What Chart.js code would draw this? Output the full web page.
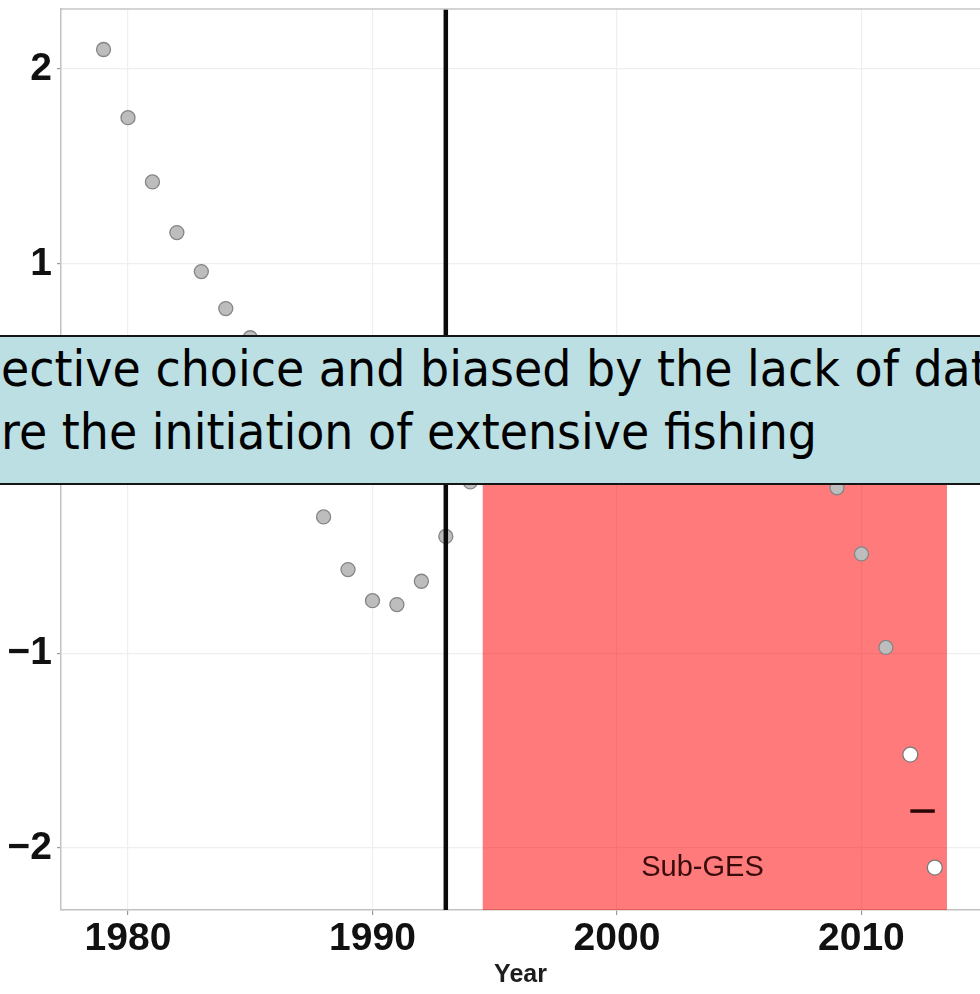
<!DOCTYPE html>
<html>
<head>
<meta charset="utf-8">
<script src="https://cdn.jsdelivr.net/npm/chart.js@4/dist/chart.umd.min.js"></script>
<style>
  html, body { margin: 0; padding: 0; background: #fff; overflow: hidden; }
  #wrap { position: relative; width: 980px; height: 994px; overflow: hidden; }
  #chart { position: absolute; left: 0; top: 0; }
  #note {
    position: absolute; left: -20px; top: 335px; width: 1030px; height: 150px;
    box-sizing: border-box; border: 2px solid #151515; background: #BBDFE3;
  }
  .ln {
    position: absolute; left: 1px; white-space: nowrap; color: #000;
    font-family: "DejaVu Sans", Verdana, sans-serif; font-size: 50px; line-height: 50px;
    transform-origin: 0 0;
  }
</style>
</head>
<body>
<div id="wrap">
  <canvas id="chart" width="980" height="994"></canvas>
  <div id="note"></div>
  <div class="ln" id="l1" style="top:344px">ective choice and biased by the lack of dat</div>
  <div class="ln" id="l2" style="top:407px">re the initiation of extensive fishing</div>
</div>
<script>
// Yearly index values (assessed years)
const years = [1979, 1980, 1981, 1982, 1983, 1984, 1985, 1986, 1987, 1988, 1989, 1990,
               1991, 1992, 1993, 1994, 1995, 1996, 1997, 1998, 1999, 2000, 2001, 2002,
               2003, 2004, 2005, 2006, 2007, 2008, 2009, 2010, 2011];
const indexValues = [2.10, 1.75, 1.42, 1.16, 0.96, 0.77, 0.62, 0.36, 0.06, -0.30, -0.57, -0.73,
                     -0.75, -0.63, -0.40, -0.12, 0.05, 0.18, 0.30, 0.35, 0.40, 0.44, 0.42, 0.38,
                     0.33, 0.30, 0.25, 0.20, 0.12, 0.02, -0.15, -0.49, -0.97];

// Most recent years, shown as open markers
const recentYears = [2012, 2013];
const recentValues = [-1.52, -2.10];

// Short horizontal mark between the two recent years
const markYears = [2012, 2013];
const markValue = -1.81;

// Reference year (vertical line) and the Sub-GES period
const referenceYear = 1993;
const subGesYears = [1994.5, 2013.5];
const subGesUpper = 0.3;
const subGesText = 'Sub-GES';

// Axis ranges and tick values
const xRange = [1977.26, 2014.85];
const yRange = [-2.318, 2.308];
const xTicks = [1980, 1990, 2000, 2010];
const yTicks = [-2, -1, 0, 1, 2];

const FONT = "'Liberation Sans', Arial, sans-serif";

const toXY = (xs, ys) => xs.map((x, i) => ({ x: x, y: Array.isArray(ys) ? ys[i] : ys }));

// Frame line along the top of the plotting area and the Sub-GES caption
const decorations = {
  id: 'decorations',
  afterDatasetsDraw(chart, args, opts) {
    const { ctx, chartArea, scales } = chart;
    ctx.save();
    ctx.strokeStyle = '#c6c6c6';
    ctx.lineWidth = 1.5;
    ctx.beginPath();
    ctx.moveTo(chartArea.left, chartArea.top);
    ctx.lineTo(chartArea.right, chartArea.top);
    ctx.stroke();
    ctx.font = '29px ' + FONT;
    ctx.fillStyle = '#3a0b0b';
    ctx.textAlign = 'center';
    ctx.textBaseline = 'middle';
    ctx.fillText(subGesText, scales.x.getPixelForValue(opts.labelX), scales.y.getPixelForValue(opts.labelY));
    ctx.restore();
  }
};

new Chart(document.getElementById('chart'), {
  type: 'scatter',
  data: {
    datasets: [
      {
        // Sub-GES period
        type: 'line',
        data: toXY(subGesYears, subGesUpper),
        borderWidth: 0,
        pointRadius: 0,
        fill: 'start',
        backgroundColor: 'rgba(255, 0, 0, 0.52)',
        order: 5
      },
      {
        data: toXY(years, indexValues),
        pointRadius: 7,
        pointBorderWidth: 1.3,
        pointBackgroundColor: '#BDBDBD',
        pointBorderColor: '#858585',
        order: 3
      },
      {
        data: toXY(recentYears, recentValues),
        pointRadius: 7.5,
        pointBorderWidth: 1.3,
        pointBackgroundColor: '#FFFFFF',
        pointBorderColor: '#7a7a7a',
        order: 3
      },
      {
        // Reference year
        type: 'line',
        data: toXY([referenceYear, referenceYear], yRange),
        borderColor: '#0a0a0a',
        borderWidth: 4.5,
        pointRadius: 0,
        fill: false,
        order: 2
      },
      {
        type: 'line',
        data: toXY(markYears, markValue),
        borderColor: '#2a0606',
        borderWidth: 3.5,
        pointRadius: 0,
        fill: false,
        order: 1
      }
    ]
  },
  options: {
    responsive: false,
    devicePixelRatio: 1,
    animation: false,
    layout: { autoPadding: false, padding: { top: 9, left: 0, right: 0, bottom: 0 } },
    plugins: {
      legend: { display: false },
      tooltip: { enabled: false },
      decorations: { labelX: 2003.5, labelY: -2.10 }
    },
    scales: {
      x: {
        type: 'linear',
        min: xRange[0],
        max: xRange[1],
        afterBuildTicks: s => { s.ticks = xTicks.map(v => ({ value: v })); },
        afterFit: s => { s.height = 84; s.paddingLeft = 0; s.paddingRight = 0; },
        ticks: {
          font: { family: FONT, size: 39, weight: 'bold' },
          color: '#111',
          padding: 1,
          maxRotation: 0,
          autoSkip: false,
          callback: v => String(v)
        },
        grid: { color: '#EFEFEF', lineWidth: 1.2, tickLength: 5, tickColor: '#9a9a9a' },
        border: { color: '#c2c2c2', width: 1.5 },
        title: {
          display: true,
          text: 'Year',
          font: { family: FONT, size: 25, weight: 'bold' },
          color: '#1e1e1e',
          padding: { top: 0, bottom: 4 }
        }
      },
      y: {
        type: 'linear',
        min: yRange[0],
        max: yRange[1],
        afterBuildTicks: s => { s.ticks = yTicks.map(v => ({ value: v })); },
        afterFit: s => { s.width = 61; s.paddingTop = 0; s.paddingBottom = 0; },
        ticks: {
          font: { family: FONT, size: 39, weight: 'bold' },
          color: '#111',
          padding: 5,
          callback: v => (v < 0 ? '\u2212' + Math.abs(v) : String(v))
        },
        grid: { color: '#EFEFEF', lineWidth: 1.2, tickLength: 4, tickColor: '#9a9a9a' },
        border: { color: '#c2c2c2', width: 1.5 }
      }
    }
  },
  plugins: [decorations]
});

// Condense the note text horizontally to its set width
(function () {
  const c = document.createElement('canvas').getContext('2d');
  c.font = '50px "DejaVu Sans", Verdana, sans-serif';
  const w = c.measureText(document.getElementById('l2').textContent).width;
  const k = 816 / w;
  document.getElementById('l1').style.transform = 'scaleX(' + k + ')';
  document.getElementById('l2').style.transform = 'scaleX(' + k + ')';
})();
</script>
</body>
</html>
